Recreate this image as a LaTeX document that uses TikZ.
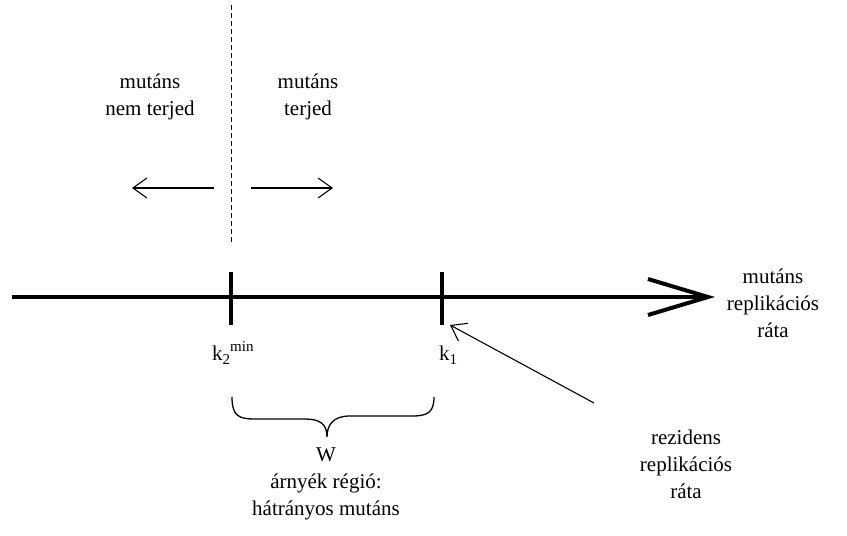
\documentclass[tikz,border=0pt]{standalone}
\usepackage{fontspec}
\setmainfont{Liberation Serif}
\usetikzlibrary{arrows.meta}
\newcommand{\smallidx}[1]{{\fontsize{15}{15}\selectfont #1}}
\begin{document}
\begin{tikzpicture}[x=1pt,y=-1pt,
  txt/.style={font=\fontsize{21}{27}\selectfont, align=center, inner sep=0pt},
  thinarrow/.style={line width=1.1pt, -{Straight Barb[length=14pt,width=20pt,line width=1.1pt]}},
  axisline/.style={line width=4pt},
  tickline/.style={line width=4pt},
  bracestyle/.style={line width=1.3pt}]
\useasboundingbox (0,0) rectangle (847,536);
% dashed divider
\coordinate (dtop) at (231,5);
\coordinate (dbot) at (231,245);
\draw[line width=1pt, dash pattern=on 5pt off 3pt] (dtop) -- (dbot);
% top labels
\node[txt] (nemterjed) at (150,97) {mutáns\\nem terjed};
\node[txt] (terjed) at (308,97) {mutáns\\terjed};
% direction arrows
\coordinate (la1) at (214,188); \coordinate (la2) at (132,188);
\coordinate (ra1) at (251,188); \coordinate (ra2) at (333,188);
\draw[thinarrow] (la1) -- (la2);
\draw[thinarrow] (ra1) -- (ra2);
% axis
\coordinate (axstart) at (12,297);
\coordinate (axend) at (708,297);
\coordinate (tipup) at (648,279);
\coordinate (tipdn) at (648,315);
\draw[axisline] (axstart) -- (axend);
\draw[axisline, line join=miter] (tipup) -- (axend) -- (tipdn);
% ticks
\coordinate (k2top) at (231,272); \coordinate (k2bot) at (231,325);
\coordinate (k1top) at (442,272); \coordinate (k1bot) at (442,325);
\draw[tickline] (k2top) -- (k2bot);
\draw[tickline] (k1top) -- (k1bot);
% tick labels
\node[txt, anchor=base west] (k2lab) at (212,360) {k\raisebox{-4pt}{\smallidx{2}}\raisebox{9pt}{\smallidx{min}}};
\node[txt, anchor=base west] (k1lab) at (439,360) {k\raisebox{-4pt}{\smallidx{1}}};
% axis label
\node[txt] (mutrep) at (773,303) {mutáns\\replikációs\\ráta};
% resident arrow
\node[txt] (rezid) at (686,464) {rezidens\\replikációs\\ráta};
\coordinate (rezfrom) at (594,403);
\coordinate (rezto) at (450,325);
\draw[thinarrow] (rezfrom) -- (rezto);
% brace
\draw[bracestyle] (232,397) .. controls (232,417) and (240,419) .. (255,419) -- (305,419)
  .. controls (320,419) and (327,424) .. (327,437)
  .. controls (327,424) and (334,416) .. (350,416) -- (412,416)
  .. controls (428,416) and (434,412) .. (434,397);
\node[txt] (wlab) at (326,484) {W\\árnyék régió:\\hátrányos mutáns};
\end{tikzpicture}
\end{document}
